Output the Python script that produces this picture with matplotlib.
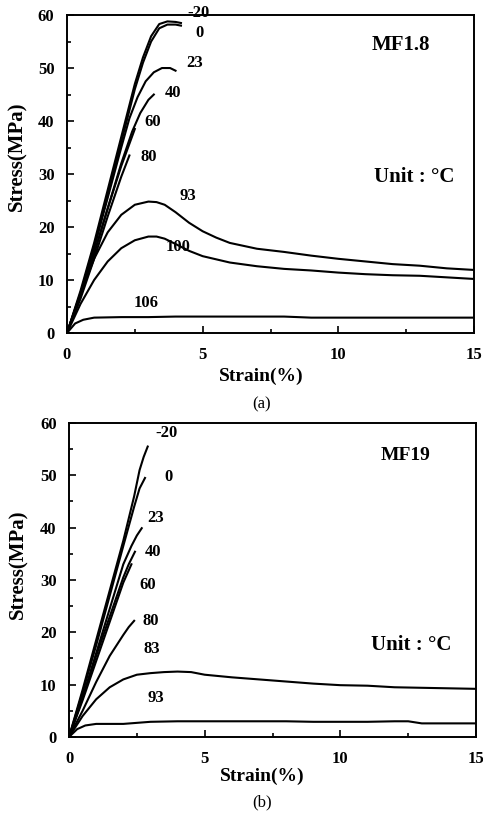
import matplotlib
matplotlib.use("Agg")
import matplotlib.pyplot as plt
from matplotlib.ticker import MultipleLocator

plt.rcParams["font.family"] = ["Liberation Serif", "DejaVu Serif"]

# ---- panel (a) MF1.8 ----
a_temps = ["-20", "0", "23", "40", "60", "80", "93", "100", "106"]
a_strain = [
    [0, 0.5, 1.0, 1.5, 2.0, 2.5, 2.8, 3.1, 3.4, 3.7, 4.0, 4.2],
    [0, 0.5, 1.0, 1.5, 2.0, 2.5, 2.8, 3.1, 3.4, 3.7, 4.0, 4.2],
    [0, 0.5, 1.0, 1.5, 2.0, 2.3, 2.6, 2.9, 3.2, 3.5, 3.8, 4.0],
    [0, 0.5, 1.0, 1.5, 2.0, 2.4, 2.7, 3.0, 3.2],
    [0, 0.5, 1.0, 1.5, 2.0, 2.5],
    [0, 0.5, 1.0, 1.5, 2.0, 2.3],
    [0, 0.5, 1, 1.5, 2, 2.5, 3, 3.3, 3.6, 4, 4.5, 5, 5.5, 6, 7, 8, 9, 10, 11, 12, 13, 14, 15],
    [0, 0.5, 1, 1.5, 2, 2.5, 3, 3.3, 3.6, 4, 4.5, 5, 6, 7, 8, 9, 10, 11, 12, 13, 14, 15],
    [0, 0.3, 0.6, 1, 2, 3, 4, 5, 6, 7, 8, 9, 10, 11, 12, 13, 14, 15],
]
a_stress = [
    [0, 8, 17, 27, 37, 47, 52, 56, 58.3, 58.8, 58.7, 58.5],
    [0, 7.5, 16.5, 26, 36, 46, 51, 55, 57.5, 58.2, 58.2, 58.0],
    [0, 7.5, 16, 25.5, 35, 40.5, 44.5, 47.5, 49.2, 50, 50, 49.5],
    [0, 7, 15, 23.5, 32, 38, 41.5, 44, 45],
    [0, 7, 15, 23.5, 31.5, 38.5],
    [0, 6.5, 14, 22, 29.5, 33.5],
    [0, 7.5, 14, 19, 22.3, 24.2, 24.8, 24.7, 24.2, 22.8, 20.8, 19.2, 18, 17, 15.9, 15.3, 14.6, 14, 13.5, 13, 12.7, 12.2, 11.9],
    [0, 5.5, 10, 13.5, 16, 17.5, 18.2, 18.2, 17.8, 16.8, 15.5, 14.5, 13.3, 12.6, 12.1, 11.8, 11.4, 11.1, 10.9, 10.8, 10.5, 10.2],
    [0, 1.8, 2.5, 2.9, 3, 3, 3.1, 3.1, 3.1, 3.1, 3.1, 2.9, 2.9, 2.9, 2.9, 2.9, 2.9, 2.9],
]
a_label_x = [4.85, 4.9, 4.7, 3.9, 3.15, 3.0, 4.45, 4.1, 2.9]
a_label_y = [60.3, 56.6, 51.0, 45.3, 39.8, 33.2, 25.8, 16.2, 5.7]

# ---- panel (b) MF19 ----
b_temps = ["-20", "0", "23", "40", "60", "80", "83", "93"]
b_strain = [
    [0, 0.5, 1, 1.5, 2, 2.4, 2.6, 2.75, 2.9],
    [0, 0.5, 1, 1.5, 2, 2.4, 2.6, 2.8],
    [0, 0.5, 1, 1.5, 2, 2.3, 2.5, 2.68],
    [0, 0.5, 1, 1.5, 2, 2.2, 2.43],
    [0, 0.5, 1, 1.5, 2, 2.3],
    [0, 0.5, 1, 1.5, 2, 2.2, 2.4],
    [0, 0.5, 1, 1.5, 2, 2.5, 3, 3.5, 4, 4.5, 5, 6, 7, 8, 9, 10, 11, 12, 13, 14, 15],
    [0, 0.3, 0.6, 1, 2, 3, 4, 5, 6, 7, 8, 9, 10, 11, 12, 12.5, 13, 14, 15],
]
b_stress = [
    [0, 9, 18.5, 28, 37.5, 46, 51, 53.5, 55.5],
    [0, 8.5, 17.5, 27, 36.5, 44, 47.5, 49.5],
    [0, 7.5, 16, 24.5, 33, 36.5, 38.5, 39.9],
    [0, 7.5, 15.5, 23, 30.5, 33, 35.4],
    [0, 7, 14.5, 22, 29.5, 33],
    [0, 5, 10.5, 15.5, 19.5, 21, 22.2],
    [0, 4, 7.2, 9.5, 11, 11.9, 12.2, 12.4, 12.5, 12.4, 11.9, 11.4, 11, 10.6, 10.2, 9.9, 9.8, 9.5, 9.4, 9.3, 9.2],
    [0, 1.5, 2.2, 2.5, 2.5, 2.9, 3, 3, 3, 3, 3, 2.9, 2.9, 2.9, 3, 3, 2.6, 2.6, 2.6],
]
b_label_x = [3.6, 3.65, 3.2, 3.1, 2.9, 3.0, 3.05, 3.2]
b_label_y = [58.1, 49.7, 41.9, 35.4, 29.1, 22.2, 16.8, 7.5]


def draw_panel(ax, strains, stresses, temps, lx, ly, name, name_xy, name_size,
               unit_xy, xlab_xy, ylab_xy):
    for s, y in zip(strains, stresses):
        ax.plot(s, y, color="black", lw=1.5)
    for t, x, y in zip(temps, lx, ly):
        ax.text(x, y, t, fontsize=12, fontweight="bold", ha="center", va="center")
    ax.text(name_xy[0], name_xy[1], name, fontsize=name_size, fontweight="bold",
            ha="center", va="center")
    ax.text(unit_xy[0], unit_xy[1], "Unit : °C", fontsize=15, fontweight="bold",
            ha="center", va="center")

    ax.set_xlim(0, 15)
    ax.set_ylim(0, 60)
    ax.xaxis.set_major_locator(MultipleLocator(5))
    ax.xaxis.set_minor_locator(MultipleLocator(2.5))
    ax.yaxis.set_major_locator(MultipleLocator(10))
    ax.yaxis.set_minor_locator(MultipleLocator(5))
    ax.tick_params(which="both", direction="in", labelsize=12, width=1.2)
    ax.tick_params(which="major", length=5)
    ax.tick_params(which="minor", length=3)
    ax.tick_params(axis="x", pad=10)
    ax.tick_params(axis="y", pad=9)
    for lab in ax.get_xticklabels() + ax.get_yticklabels():
        lab.set_fontweight("bold")
    for sp in ax.spines.values():
        sp.set_linewidth(1.4)
    ax.set_xlabel("Strain(%)", fontsize=14, fontweight="bold")
    ax.set_ylabel("Stress(MPa)", fontsize=15, fontweight="bold")
    ax.xaxis.set_label_coords(*xlab_xy)
    ax.yaxis.set_label_coords(*ylab_xy)


fig = plt.figure(figsize=(4.83, 8.13), dpi=100)
ax1 = fig.add_axes([0.1387, 0.5904, 0.8427, 0.3911])
ax2 = fig.add_axes([0.1429, 0.0935, 0.8427, 0.3862])

draw_panel(ax1, a_strain, a_stress, a_temps, a_label_x, a_label_y,
           "MF1.8", (12.3, 54.3), 15, (12.8, 29.4), (0.477, -0.11), (-0.097, 0.555))
draw_panel(ax2, b_strain, b_stress, b_temps, b_label_x, b_label_y,
           "MF19", (12.4, 53.8), 14, (12.6, 17.6), (0.474, -0.099), (-0.1, 0.55))

fig.text(262 / 483, 1 - 404 / 813, "(a)", fontsize=12, ha="center", va="center")
fig.text(262 / 483, 1 - 802 / 813, "(b)", fontsize=12, ha="center", va="center")

fig.savefig("out.png", dpi=100)
